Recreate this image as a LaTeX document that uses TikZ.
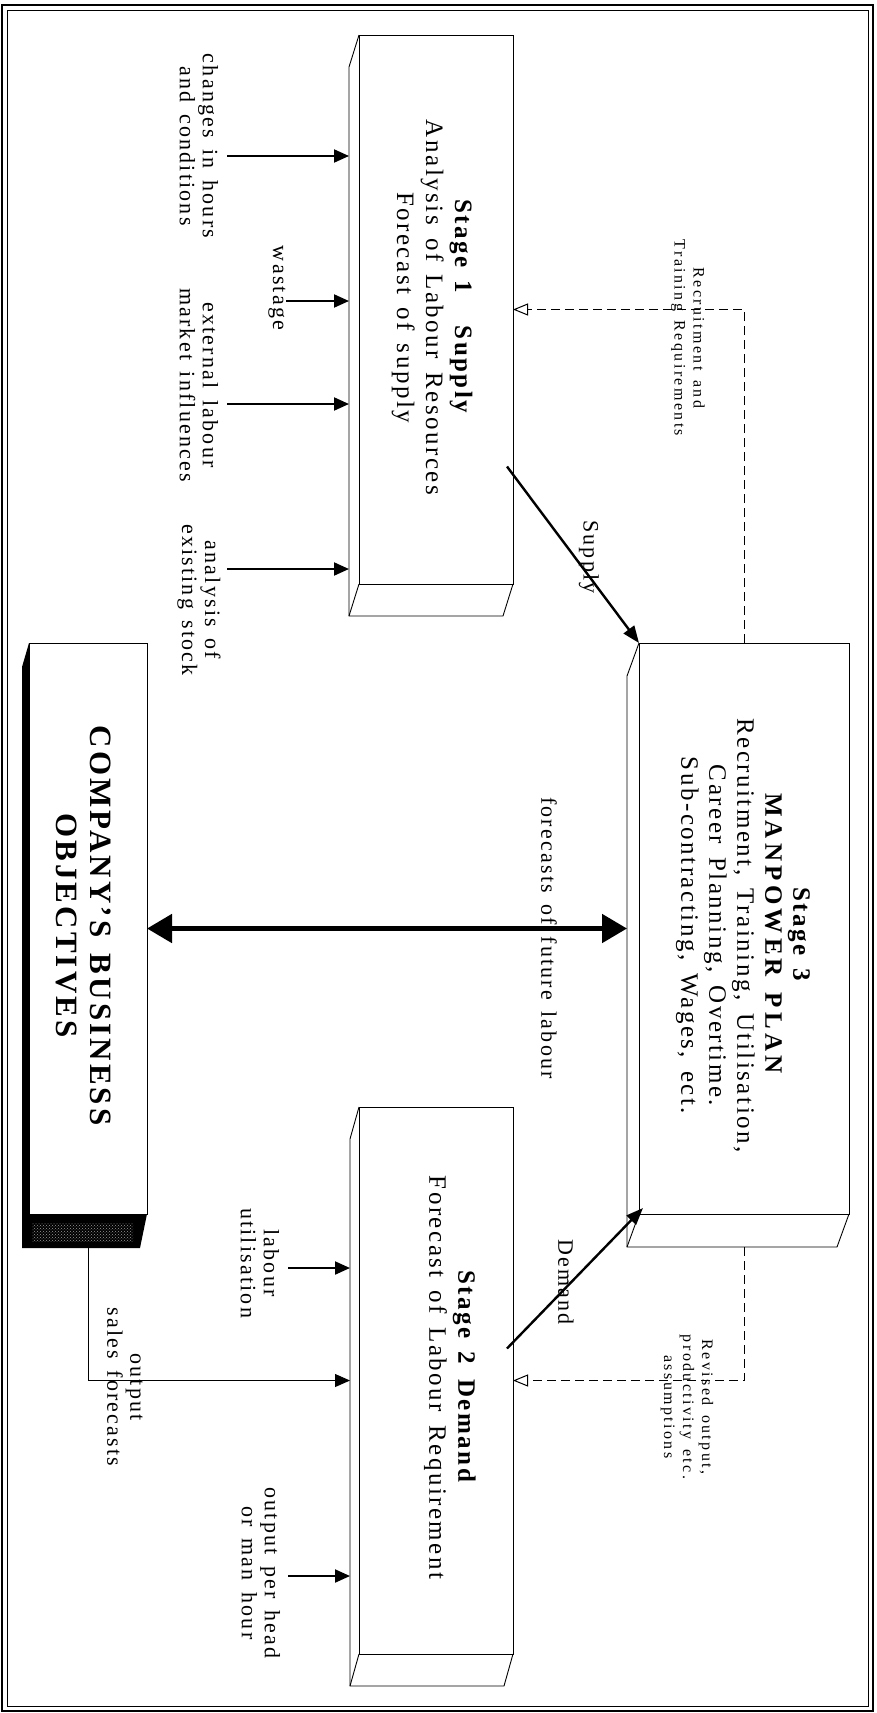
\documentclass[tikz,border=0pt]{standalone}
\usepackage{fontspec}
\setmainfont[LetterSpace=10, WordSpace=1.5]{Liberation Serif}
\usetikzlibrary{arrows.meta,calc,patterns}

\tikzset{
  boxface/.style={draw, line width=0.9pt, inner sep=0pt, outer sep=0pt},
  boxside/.style={line width=0.9pt},
  inarrow/.style={line width=2pt, -{Triangle[length=15pt,width=13pt]}},
  mainarrow/.style={line width=2.4pt, -{Triangle[length=17pt,width=13pt]}},
  feedback/.style={line width=1pt, dash pattern=on 9pt off 5pt, -{Triangle[open,length=15pt,width=12pt]}},
  txt/.style={rotate=-90, align=center, inner sep=0pt},
  lbl/.style={txt, font=\fontsize{22}{23}\selectfont},
  stagetxt/.style={txt, font=\fontsize{25}{29}\selectfont},
  smallnote/.style={txt, font=\fontsize{16}{19}\selectfont\addfontfeature{LetterSpace=15}},
}

\begin{document}
\begin{tikzpicture}[x=1pt, y=-1pt]
\useasboundingbox (0,0) rectangle (876,1713);
% double frame
\draw[line width=2pt] (2,5) rectangle (873,1711);
\draw[line width=0.8pt] (7,10) rectangle (868,1706);

% front faces of the boxes
\node[boxface, minimum width=154pt, minimum height=549pt] (s1) at (436,309.5) {};
\node[boxface, minimum width=210pt, minimum height=571pt] (s3) at (744,928.5) {};
\node[boxface, minimum width=154pt, minimum height=547pt] (s2) at (436,1380.5) {};
\node[boxface, minimum width=118pt, minimum height=571pt] (co) at (88,928.5) {};

% depth of the boxes
\draw[boxside] (s1.north west) -- ++(-10,32) -- ($(s1.south west)+(-10,32)$) -- ($(s1.south east)+(-10,32)$) -- (s1.south east);
\draw[boxside] (s1.south west) -- ++(-10,32);
\draw[boxside] (s3.north west) -- ++(-12,33) -- ($(s3.south west)+(-12,33)$) -- ($(s3.south east)+(-12,33)$) -- (s3.south east);
\draw[boxside] (s3.south west) -- ++(-12,33);
\draw[boxside] (s2.north west) -- ++(-9,32) -- ($(s2.south west)+(-9,32)$) -- ($(s2.south east)+(-9,32)$) -- (s2.south east);
\draw[boxside] (s2.south west) -- ++(-9,32);
\fill (co.north west) -- ++(-7,24) -- ($(co.south west)+(-7,34)$) -- ($(co.south east)+(-7,34)$) -- (co.south east) -- (co.south west) -- cycle;
\fill[pattern=crosshatch dots, pattern color=gray!80] ($(co.south west)+(3,9)$) rectangle ($(co.south east)+(-14,27)$);

% box texts
\node[stagetxt] (s1txt) at ($(s1)+(-4,-2)$) {\textbf{Stage 1\hspace{1.3em}Supply}\\Analysis of Labour Resources\\Forecast of supply};
\node[stagetxt, font=\fontsize{25}{28}\selectfont] (s3txt) at ($(s3)+(-1,7)$) {\textbf{Stage 3}\\\textbf{\addfontfeature{LetterSpace=17}MANPOWER PLAN}\\Recruitment, Training, Utilisation,\\Career Planning, Overtime.\\Sub-contracting, Wages, ect.};
\node[stagetxt] (s2txt) at ($(s2)+(14,-3)$) {\textbf{Stage 2\hspace{0.6em}Demand}\\Forecast of Labour Requirement};
\node[txt, font=\fontsize{31}{34}\bfseries\selectfont] (cotxt) at ($(co)+(-4,-3)$) {COMPANY'S BUSINESS\\OBJECTIVES};

% inputs to stage 1
\node[lbl] (l1) at (199,146) {changes in hours\\and conditions};
\node[lbl] (l2) at (277,288) {wastage};
\node[lbl] (l3) at (199,385) {external labour\\market influences};
\node[lbl] (l4) at (199,600) {analysis of\\existing stock};
\coordinate (a1) at (227,156);
\coordinate (a2) at (286,301);
\coordinate (a3) at (227,404);
\coordinate (a4) at (227,569);
\foreach \a in {a1,a2,a3,a4}
  \draw[inarrow] (\a) -- ($(\a -| s1.west)+(-10,0)$);

% inputs to stage 2
\node[lbl] (l5) at (260,1263) {labour\\utilisation};
\node[lbl] (l6) at (261,1573) {output per head\\or man hour};
\coordinate (a5) at (288,1268);
\coordinate (a6) at (288,1576);
\foreach \a in {a5,a6}
  \draw[inarrow] (\a) -- ($(\a -| s2.west)+(-9,0)$);
\node[lbl] (l7) at (125,1387) {output\\sales forecasts};
\draw[line width=0.9pt, -{Triangle[length=15pt,width=13pt]}] ($(co.south)+(0,34)$) |- ($(s2.west)+(-9,0)$);

% supply and demand
\draw[mainarrow] ($(s1.east)+(-6,157)$) -- (s3.north west);
\node[lbl] (sup) at (589,557) {Supply};
\draw[mainarrow] ($(s2.east)+(-6,-32)$) -- ($(s3.south west)+(4,-6)$);
\node[lbl] (dem) at (566,1282) {Demand};

% forecasts of future labour
\draw[line width=5pt, {Triangle[length=25pt,width=28pt]}-{Triangle[length=25pt,width=28pt]}] (co.east) -- ($(s3.west)+(-12,0)$);
\node[lbl] (fut) at (549,938) {forecasts of future labour};

% feedback from the plan
\draw[feedback] (s3.north) |- (s1.east);
\node[smallnote] (rec) at (688,338) {Recruitment and\\Training Requirements};
\draw[feedback] ($(s3.south)+(0,33)$) |- (s2.east);
\node[smallnote] (rev) at (687,1407) {Revised output,\\productivity etc.\\assumptions};
\end{tikzpicture}
\end{document}
